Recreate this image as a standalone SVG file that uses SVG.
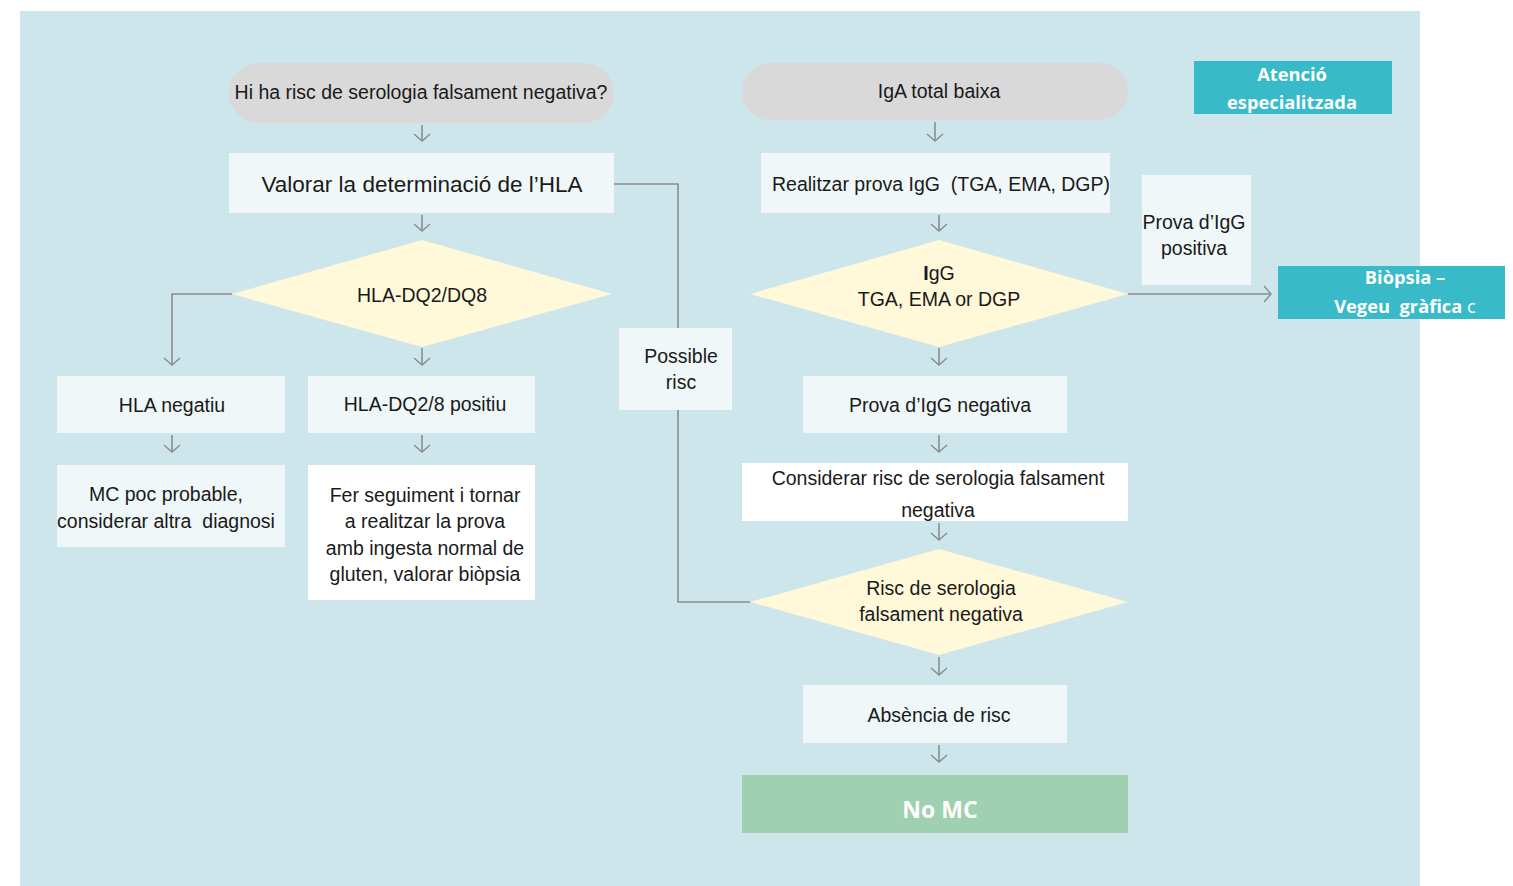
<svg xmlns="http://www.w3.org/2000/svg" width="1513" height="886" viewBox="0 0 1513 886">
<defs>
<style>
.t{font-family:"Liberation Sans","Open Sans",sans-serif;font-size:19.5px;fill:#1a1a1a;text-anchor:middle}
.w{font-family:"Open Sans","Liberation Sans",sans-serif;font-weight:bold;fill:#ffffff;text-anchor:middle;font-size:18.3px}
.pill{fill:#d9d9d9}
.box{fill:#eff7f9}
.wbox{fill:#ffffff}
.dia{fill:#fff8d9}
.teal{fill:#38bac9}
.green{fill:#9fd0b0}
.c{fill:none;stroke:#8c8c8c;stroke-width:1.6}
</style>
<marker id="ah" markerWidth="20" markerHeight="20" refX="10" refY="10" orient="auto" markerUnits="userSpaceOnUse">
<path d="M3,2 L10,10 L3,18" fill="none" stroke="#8c8c8c" stroke-width="1.4"/>
</marker>
</defs>
<rect x="20" y="11" width="1400" height="875" fill="#cde6eb"/>

<g id="connectors">
<path class="c" d="M422,125 V141" marker-end="url(#ah)"/>
<path class="c" d="M422,215 V231" marker-end="url(#ah)"/>
<path class="c" d="M422,348 V365" marker-end="url(#ah)"/>
<path class="c" d="M232,294 H172 V365" marker-end="url(#ah)"/>
<path class="c" d="M172,435 V452" marker-end="url(#ah)"/>
<path class="c" d="M422,435 V452" marker-end="url(#ah)"/>
<path class="c" d="M614,184 H678 V328"/>
<path class="c" d="M678,410 V602 H750"/>
<path class="c" d="M935,122 V141" marker-end="url(#ah)"/>
<path class="c" d="M939,215 V231" marker-end="url(#ah)"/>
<path class="c" d="M939,348 V365" marker-end="url(#ah)"/>
<path class="c" d="M1128,294 H1271" marker-end="url(#ah)"/>
<path class="c" d="M939,435 V452" marker-end="url(#ah)"/>
<path class="c" d="M939,523 V540" marker-end="url(#ah)"/>
<path class="c" d="M939,657 V675" marker-end="url(#ah)"/>
<path class="c" d="M939,745 V762" marker-end="url(#ah)"/>
</g>

<g id="n-risc-q">
<rect class="pill" x="229" y="63" width="385" height="60" rx="30"/>
<text class="t" x="421" y="99">Hi ha risc de serologia falsament negativa?</text>
</g>
<g id="n-iga">
<rect class="pill" x="742" y="63" width="386" height="57" rx="28.5"/>
<text class="t" x="939" y="98">IgA total baixa</text>
</g>
<g id="n-valorar">
<rect class="box" x="229" y="153" width="385" height="60"/>
<text class="t" x="422" y="192" style="font-size:22.5px">Valorar la determinació de l’HLA</text>
</g>
<g id="n-realitzar">
<rect class="box" x="761" y="153" width="349" height="60"/>
<text class="t" x="941" y="191" xml:space="preserve">Realitzar prova IgG  (TGA, EMA, DGP)</text>
</g>
<g id="n-atencio">
<rect class="teal" x="1194" y="61" width="198" height="53"/>
<text class="w" x="1292" y="81">Atenció</text>
<text class="w" x="1292" y="109">especialitzada</text>
</g>
<g id="n-positiva">
<rect class="box" x="1142" y="175" width="109" height="110"/>
<text class="t" x="1194" y="229">Prova d’IgG</text>
<text class="t" x="1194" y="255">positiva</text>
</g>
<g id="n-biopsia">
<rect class="teal" x="1278" y="266" width="227" height="53"/>
<text class="w" x="1405" y="284">Biòpsia –</text>
<text class="w" x="1405" y="313" xml:space="preserve">Vegeu  gràfica <tspan font-weight="normal">c</tspan></text>
</g>
<g id="n-hla-dia">
<polygon class="dia" points="422,240 612,294 422,347 232,294"/>
<text class="t" x="422" y="302">HLA-DQ2/DQ8</text>
</g>
<g id="n-igg-dia">
<polygon class="dia" points="939,240 1128,294 939,347 750,294"/>
<text class="t" x="939" y="280"><tspan font-weight="bold">I</tspan>gG</text>
<text class="t" x="939" y="306">TGA, EMA or DGP</text>
</g>
<g id="n-hla-neg">
<rect class="box" x="57" y="376" width="228" height="57"/>
<text class="t" x="172" y="412">HLA negatiu</text>
</g>
<g id="n-hla-pos">
<rect class="box" x="308" y="376" width="227" height="57"/>
<text class="t" x="425" y="411">HLA-DQ2/8 positiu</text>
</g>
<g id="n-mc-poc">
<rect class="box" x="57" y="465" width="228" height="82"/>
<text class="t" x="166" y="501">MC poc probable,</text>
<text class="t" x="166" y="528" xml:space="preserve">considerar altra  diagnosi</text>
</g>
<g id="n-fer">
<rect class="wbox" x="308" y="465" width="227" height="135"/>
<text class="t" x="425" y="502">Fer seguiment i tornar</text>
<text class="t" x="425" y="528">a realitzar la prova</text>
<text class="t" x="425" y="555">amb ingesta normal de</text>
<text class="t" x="425" y="581">gluten, valorar biòpsia</text>
</g>
<g id="n-possible">
<rect class="box" x="619" y="328" width="113" height="82"/>
<text class="t" x="681" y="363">Possible</text>
<text class="t" x="681" y="389">risc</text>
</g>
<g id="n-igg-neg">
<rect class="box" x="803" y="376" width="264" height="57"/>
<text class="t" x="940" y="412">Prova d’IgG negativa</text>
</g>
<g id="n-considerar">
<rect class="wbox" x="742" y="463" width="386" height="58"/>
<text class="t" x="938" y="485">Considerar risc de serologia falsament</text>
<text class="t" x="938" y="517">negativa</text>
</g>
<g id="n-risc-dia">
<polygon class="dia" points="939,549 1128,602 939,655 750,602"/>
<text class="t" x="941" y="595">Risc de serologia</text>
<text class="t" x="941" y="621">falsament negativa</text>
</g>
<g id="n-absencia">
<rect class="box" x="803" y="685" width="264" height="58"/>
<text class="t" x="939" y="722">Absència de risc</text>
</g>
<g id="n-nomc">
<rect class="green" x="742" y="775" width="386" height="58"/>
<text class="w" x="940" y="818" style="font-size:23px">No MC</text>
</g>
</svg>
